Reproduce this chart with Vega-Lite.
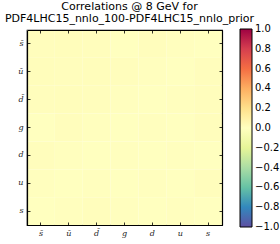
{
  "$schema": "https://vega.github.io/schema/vega-lite/v6.json",
  "autosize": "none",
  "width": 195,
  "height": 195,
  "padding": {"left": 27, "top": 30, "right": 58, "bottom": 19},
  "background": "white",
  "title": {
    "text": ["Correlations @ 8 GeV for", "PDF4LHC15_nnlo_100-PDF4LHC15_nnlo_prior"],
    "font": "DejaVu Sans",
    "fontSize": 11,
    "fontWeight": "normal",
    "color": "black",
    "anchor": "middle",
    "frame": "group",
    "offset": 5,
    "dx": 5,
    "lineHeight": 12
  },
  "config": {
    "view": {"stroke": "black", "strokeWidth": 1.2},
    "axis": {
      "grid": false,
      "domainColor": "black",
      "domainWidth": 1.2,
      "tickColor": "black",
      "tickSize": -3,
      "tickWidth": 0.8,
      "labelFont": "DejaVu Serif",
      "labelFontStyle": "italic",
      "labelFontSize": 8,
      "labelColor": "#222222",
      "title": null
    }
  },
  "data": {
    "values": [
      {"x": "s\u0304", "y": "s\u0304", "r": 0.01},
      {"x": "u\u0304", "y": "s\u0304", "r": 0.015},
      {"x": "d\u0304", "y": "s\u0304", "r": 0.01},
      {"x": "g", "y": "s\u0304", "r": 0.0},
      {"x": "d", "y": "s\u0304", "r": 0.01},
      {"x": "u", "y": "s\u0304", "r": 0.005},
      {"x": "s", "y": "s\u0304", "r": 0.0},
      {"x": "s\u0304", "y": "u\u0304", "r": 0.015},
      {"x": "u\u0304", "y": "u\u0304", "r": 0.01},
      {"x": "d\u0304", "y": "u\u0304", "r": 0.015},
      {"x": "g", "y": "u\u0304", "r": 0.01},
      {"x": "d", "y": "u\u0304", "r": 0.005},
      {"x": "u", "y": "u\u0304", "r": 0.0},
      {"x": "s", "y": "u\u0304", "r": 0.01},
      {"x": "s\u0304", "y": "d\u0304", "r": 0.01},
      {"x": "u\u0304", "y": "d\u0304", "r": 0.015},
      {"x": "d\u0304", "y": "d\u0304", "r": 0.01},
      {"x": "g", "y": "d\u0304", "r": 0.005},
      {"x": "d", "y": "d\u0304", "r": 0.0},
      {"x": "u", "y": "d\u0304", "r": 0.005},
      {"x": "s", "y": "d\u0304", "r": 0.01},
      {"x": "s\u0304", "y": "g", "r": 0.0},
      {"x": "u\u0304", "y": "g", "r": 0.01},
      {"x": "d\u0304", "y": "g", "r": 0.005},
      {"x": "g", "y": "g", "r": 0.0},
      {"x": "d", "y": "g", "r": 0.005},
      {"x": "u", "y": "g", "r": 0.0},
      {"x": "s", "y": "g", "r": 0.01},
      {"x": "s\u0304", "y": "d", "r": 0.01},
      {"x": "u\u0304", "y": "d", "r": 0.005},
      {"x": "d\u0304", "y": "d", "r": 0.0},
      {"x": "g", "y": "d", "r": 0.005},
      {"x": "d", "y": "d", "r": 0.0},
      {"x": "u", "y": "d", "r": 0.005},
      {"x": "s", "y": "d", "r": 0.0},
      {"x": "s\u0304", "y": "u", "r": 0.005},
      {"x": "u\u0304", "y": "u", "r": 0.0},
      {"x": "d\u0304", "y": "u", "r": 0.005},
      {"x": "g", "y": "u", "r": 0.0},
      {"x": "d", "y": "u", "r": 0.005},
      {"x": "u", "y": "u", "r": 0.0},
      {"x": "s", "y": "u", "r": 0.01},
      {"x": "s\u0304", "y": "s", "r": 0.0},
      {"x": "u\u0304", "y": "s", "r": 0.005},
      {"x": "d\u0304", "y": "s", "r": 0.01},
      {"x": "g", "y": "s", "r": 0.005},
      {"x": "d", "y": "s", "r": 0.0},
      {"x": "u", "y": "s", "r": 0.005},
      {"x": "s", "y": "s", "r": 0.0}
    ]
  },
  "layer": [
    {
      "mark": {"type": "rect"},
      "encoding": {
        "x": {
          "field": "x", "type": "nominal",
          "sort": ["s\u0304", "u\u0304", "d\u0304", "g", "d", "u", "s"],
          "axis": {"orient": "bottom", "labelAngle": 0, "labelPadding": 7}
        },
        "y": {
          "field": "y", "type": "nominal",
          "sort": ["s\u0304", "u\u0304", "d\u0304", "g", "d", "u", "s"],
          "axis": {"orient": "left", "labelPadding": 7}
        },
        "color": {
          "field": "r", "type": "quantitative",
          "scale": {
            "domain": [-1, -0.8, -0.6, -0.4, -0.2, 0, 0.2, 0.4, 0.6, 0.8, 1],
            "range": ["#5e4fa2", "#3288bd", "#66c2a5", "#abdda4", "#e6f598", "#ffffbf", "#fee08b", "#fdae61", "#f46d43", "#d53e4f", "#9e0142"],
            "interpolate": "rgb"
          },
          "legend": {
            "type": "gradient",
            "orient": "none",
            "legendX": 213,
            "legendY": -1,
            "direction": "vertical",
            "title": null,
            "padding": 0,
            "gradientLength": 198,
            "gradientThickness": 12,
            "gradientStrokeColor": "black",
            "gradientStrokeWidth": 1,
            "values": [1, 0.8, 0.6, 0.4, 0.2, 0, -0.2, -0.4, -0.6, -0.8, -1],
            "format": ".1f",
            "labelExpr": "replace(datum.label, '-', '\u2212')",
            "labelFont": "DejaVu Sans",
            "labelFontSize": 10,
            "labelColor": "black",
            "labelOffset": 3,
            "labelOverlap": false,
            "encode": {"labels": {"update": {"baseline": {"value": "middle"}}}}
          }
        }
      }
    },
    {
      "mark": {"type": "rect", "opacity": 0},
      "encoding": {
        "x": {
          "field": "x", "type": "nominal",
          "sort": ["s\u0304", "u\u0304", "d\u0304", "g", "d", "u", "s"],
          "axis": {"orient": "top", "labels": false}
        },
        "y": {
          "field": "y", "type": "nominal",
          "sort": ["s\u0304", "u\u0304", "d\u0304", "g", "d", "u", "s"],
          "axis": {"orient": "right", "labels": false}
        }
      }
    }
  ],
  "resolve": {"axis": {"x": "independent", "y": "independent"}}
}
